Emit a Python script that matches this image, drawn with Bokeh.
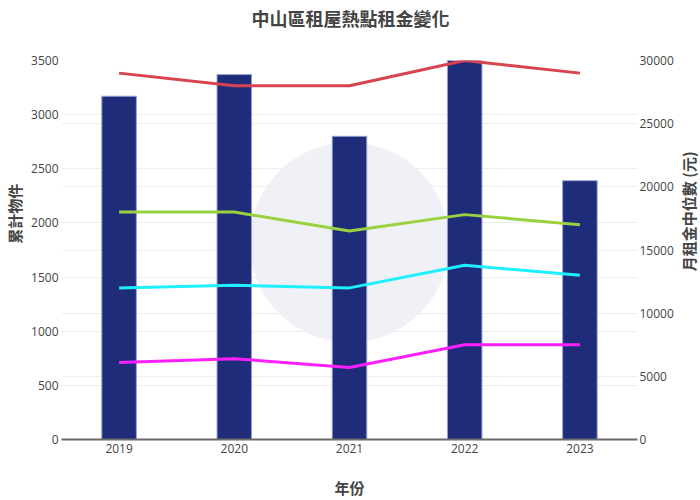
import math
from bokeh.plotting import figure
from bokeh.layouts import column, row
from bokeh.models import Range1d, LinearAxis, SingleIntervalTicker, FactorRange, Grid
from bokeh.core.properties import value
from bokeh.embed import file_html
from bokeh.resources import INLINE

years = ["2019", "2020", "2021", "2022", "2023"]
listing_counts = [3170, 3370, 2800, 3500, 2390]
rent_red = [29000, 28000, 28000, 30000, 29000]
rent_green = [18000, 18000, 16500, 17800, 17000]
rent_cyan = [12000, 12200, 12000, 13800, 13000]
rent_magenta = [6100, 6400, 5700, 7500, 7500]

line_series = [
    (rent_red, "#d9434f"),
    (rent_green, "#99d13f"),
    (rent_cyan, "#1ff0ff"),
    (rent_magenta, "#ff1fff"),
]

title_text = "中山區租屋熱點租金變化"
left_title = "累計物件"
right_title = "月租金中位數 (元)"
bottom_title = "年份"

CJK = "Noto Sans CJK TC"
TICKF = "Open Sans"
GRAY = "#444444"

TITLE_H = 40
MAIN_H = 460
LEFT_W = 28
RIGHT_W = 24
MAIN_W = 700 - LEFT_W - RIGHT_W


def text_panel(w, h, txt, tx, ty, size, angle=0.0):
    f = figure(width=w, height=h, x_range=Range1d(0, w), y_range=Range1d(0, h),
               x_axis_type=None, y_axis_type=None, output_backend="svg",
               toolbar_location=None, min_border=0)
    f.outline_line_color = None
    f.xgrid.visible = False
    f.ygrid.visible = False
    f.text(x=[tx], y=[ty], text=[txt], angle=angle, text_font=value(CJK),
           text_font_size=size, text_font_style="bold", text_color=GRAY,
           text_align="center", text_baseline="middle")
    return f


title_fig = text_panel(700, TITLE_H, title_text, 350, TITLE_H - 17, "18px")
left_fig = text_panel(LEFT_W, MAIN_H, left_title, 14, MAIN_H - (226 - TITLE_H), "15px", math.pi / 2)
right_fig = text_panel(RIGHT_W, MAIN_H, right_title, 12, MAIN_H - (223 - TITLE_H), "15px", math.pi / 2)

p = figure(width=MAIN_W, height=MAIN_H, x_range=FactorRange(*years),
           y_range=Range1d(0, 3500), output_backend="svg",
           toolbar_location=None, min_border_left=32, min_border_right=36,
           min_border_top=20, min_border_bottom=61)
p.outline_line_color = None
p.background_fill_color = "white"

p.extra_y_ranges = {"rent": Range1d(0, 30000)}

# watermark-like disc
p.scatter(x=[years[2]], y=[1820], size=200, color="#eff1f6", line_color=None, level="underlay")

p.vbar(x=years, top=listing_counts, width=0.3, fill_color="#1f2c7a",
       line_color="#9aa0d0", line_width=1)

for vals, col in line_series:
    p.line(x=years, y=vals, line_color=col, line_width=3, y_range_name="rent")


def style_axis(ax):
    ax.major_label_text_font = TICKF
    ax.major_label_text_font_size = "12px"
    ax.major_label_text_color = GRAY
    ax.major_label_standoff = 3
    ax.major_tick_out = 0
    ax.major_tick_in = 0
    ax.minor_tick_out = 0
    ax.minor_tick_in = 0
    ax.major_tick_line_color = None
    ax.minor_tick_line_color = None


ya = p.yaxis[0]
ya.ticker = SingleIntervalTicker(interval=500)
style_axis(ya)
ya.axis_line_color = None

ra = LinearAxis(y_range_name="rent", ticker=SingleIntervalTicker(interval=5000))
style_axis(ra)
ra.major_label_standoff = 2
ra.axis_line_color = None
p.add_layout(ra, "right")

xa = p.xaxis[0]
style_axis(xa)
xa.major_label_standoff = 4
xa.axis_label = bottom_title
xa.axis_label_text_font = CJK
xa.axis_label_text_font_size = "15px"
xa.axis_label_text_font_style = "bold"
xa.axis_label_text_color = GRAY
xa.axis_label_standoff = 21
xa.axis_line_color = "#6b6b6b"
xa.axis_line_width = 2

p.xgrid.grid_line_color = None
p.ygrid.grid_line_color = "#eeeeee"
p.ygrid.grid_line_width = 1
p.add_layout(Grid(dimension=1, ticker=ra.ticker, y_range_name="rent",
                  grid_line_color="#eeeeee", grid_line_width=1))

layout = column(title_fig, row(left_fig, p, right_fig, spacing=0), spacing=0)

open("out.html", "w").write(file_html(layout, INLINE))
